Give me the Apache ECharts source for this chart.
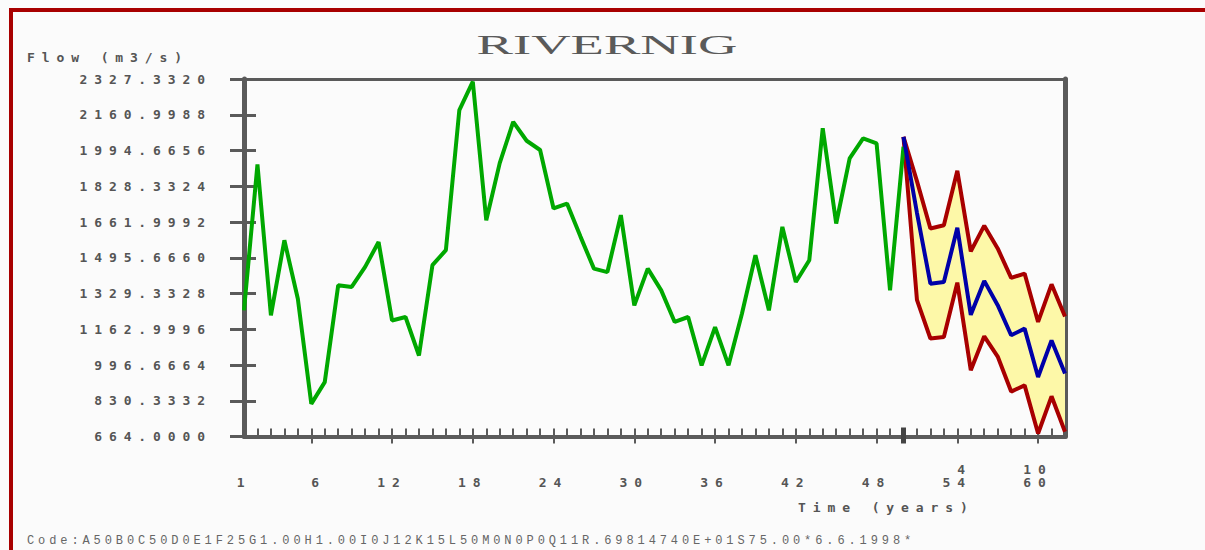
<!DOCTYPE html>
<html lang="en">
<head>
<meta charset="UTF-8">
<title>RIVERNIG</title>
<style>
    html, body { margin: 0; padding: 0; background: #ffffff; }
    #chart { width: 1205px; height: 550px; }
    /* old DOS plot font is very wide: spread the mono texts out */
    #chart text[style*="DejaVu Sans Mono"] { letter-spacing: 6.9px; white-space: pre; }
    #chart text[style*="Liberation Mono"] { letter-spacing: 3.9px; white-space: pre; }
</style>
</head>
<body>
<div id="chart"></div>
<script src="https://cdn.jsdelivr.net/npm/echarts@6/dist/echarts.min.js"></script>
<script>
// observed flow, years 1..50
var histYears = [1, 2, 3, 4, 5, 6, 7, 8, 9, 10, 11, 12, 13, 14, 15, 16, 17, 18, 19, 20,
    21, 22, 23, 24, 25, 26, 27, 28, 29, 30, 31, 32, 33, 34, 35, 36, 37, 38, 39, 40,
    41, 42, 43, 44, 45, 46, 47, 48, 49, 50];
var histFlow = [1251, 1930, 1228, 1577, 1305, 816, 917, 1368, 1360, 1453,
    1569, 1204, 1220, 1041, 1461, 1531, 2183, 2315, 1670, 1936,
    2128, 2040, 1997, 1725, 1748, 1594, 1445, 1429, 1694, 1274,
    1445, 1344, 1197, 1220, 995, 1173, 995, 1236, 1507, 1251,
    1639, 1383, 1484, 2098, 1655, 1958, 2051, 2028, 1344, 2012];

// forecast from year 50 (mean and band)
var fcYears = [50, 51, 52, 53, 54, 55, 56, 57, 58, 59, 60, 61, 62];
var fcMean  = [2058, 1705, 1375, 1383, 1635, 1230, 1388, 1275, 1135, 1166, 941, 1111, 957];
var fcUpper = [2058, 1852, 1632, 1647, 1900, 1525, 1645, 1539, 1402, 1422, 1197, 1372, 1222];
var fcLower = [2058, 1300, 1120, 1127, 1380, 972, 1130, 1036, 873, 902, 678, 851, 686];

// axis ticks
var yTicks = [664, 830.3332, 996.6664, 1162.9996, 1329.3328, 1495.666,
    1661.9992, 1828.3324, 1994.6656, 2160.9988, 2327.332];
var xMinorTicks = [];
for (var i = 1; i <= 62; i++) xMinorTicks.push(i);
var xMajorTicks = [6, 12, 18, 24, 30, 36, 42, 48, 54, 60];
var xLabelYears = [1, 6, 12, 18, 24, 30, 36, 42, 48, 54, 60];
var xLabelText  = ['1', ' 6', '12', '18', '24', '30', '36', '42', '48', '54', '60'];
var xLeadText   = ['', '', '', '', '', '', '', '', '', ' 4', '10'];

var axisGrey = '#5a5a5a';
var monoText = { fontFamily: 'DejaVu Sans Mono', fontWeight: 'bold', fontSize: 13, color: '#555555' };

function pairs(xs, ys) {
    return xs.map(function (x, i) { return [x, ys[i]]; });
}

var chart = echarts.init(document.getElementById('chart'), null, { renderer: 'svg' });

var option = {
    animation: false,
    backgroundColor: '#fbfbfb',
    title: [
        { text: 'Flow (m3/s)', left: 27, top: 51, padding: 0, textStyle: monoText },
        { text: 'Time (years)', left: 798, top: 501, padding: 0, textStyle: monoText },
        {
            text: 'Code:A50B0C50D0E1F25G1.00H1.00I0J12K15L50M0N0P0Q11R.69814740E+01S75.00*6.6.1998*',
            left: 27, top: 535, padding: 0,
            textStyle: { fontFamily: 'Liberation Mono', fontWeight: 'normal', fontSize: 12, color: '#666666' }
        }
    ],
    graphic: [
        {
            type: 'rect', silent: true,
            shape: { x: 11, y: 10, width: 1400, height: 800 },
            style: { fill: 'none', stroke: '#a80000', lineWidth: 4 }
        },
        {
            type: 'text', silent: true, x: 607, y: 44, scaleX: 1.95,
            style: {
                text: 'RIVERNIG', font: '28px "Liberation Serif"', fill: '#5a5a5a',
                textAlign: 'center', textVerticalAlign: 'middle'
            }
        }
    ],
    grid: { left: 244, right: 140, top: 79, bottom: 113.5 },
    xAxis: [
        {   // main axis: line, minor ticks up, labels
            type: 'value', min: 1, max: 62, position: 'bottom',
            axisLine: { show: true, lineStyle: { color: axisGrey, width: 4 } },
            axisTick: { show: true, inside: true, length: 8, lineStyle: { color: axisGrey, width: 2 },
                customValues: xMinorTicks },
            axisLabel: {
                customValues: xLabelYears, margin: 26, lineHeight: 13,
                fontFamily: monoText.fontFamily, fontWeight: 'bold', fontSize: 13, color: '#555555',
                formatter: function (v) {
                    var k = xLabelYears.indexOf(Math.round(v));
                    return xLeadText[k] + '\n' + xLabelText[k];
                }
            },
            splitLine: { show: false }
        },
        {   // major ticks down
            type: 'value', min: 1, max: 62, position: 'bottom',
            axisLine: { show: false },
            axisTick: { show: true, inside: false, length: 7, lineStyle: { color: axisGrey, width: 2 },
                customValues: xMajorTicks },
            axisLabel: { show: false },
            splitLine: { show: false }
        },
        {   // thick marker at start of forecast
            type: 'value', min: 1, max: 62, position: 'bottom', offset: -9,
            axisLine: { show: false },
            axisTick: { show: true, inside: false, length: 16, lineStyle: { color: '#444444', width: 5 },
                customValues: [50] },
            axisLabel: { show: false },
            splitLine: { show: false }
        },
        {   // top frame
            type: 'value', min: 1, max: 62, position: 'top',
            axisLine: { show: true, lineStyle: { color: axisGrey, width: 3 } },
            axisTick: { show: false }, axisLabel: { show: false }, splitLine: { show: false }
        }
    ],
    yAxis: [
        {
            type: 'value', min: 664, max: 2327.332, position: 'left',
            axisLine: { show: true, lineStyle: { color: axisGrey, width: 5 } },
            axisTick: { show: false },
            axisLabel: {
                customValues: yTicks, margin: 32,
                fontFamily: monoText.fontFamily, fontWeight: 'bold', fontSize: 13, color: '#555555',
                formatter: function (v) { return v.toFixed(4); }
            },
            splitLine: { show: false }
        },
        {   // ticks crossing the axis
            type: 'value', min: 664, max: 2327.332, position: 'left', offset: -12,
            axisLine: { show: false },
            axisTick: { show: true, inside: false, length: 26, lineStyle: { color: axisGrey, width: 3 },
                customValues: yTicks },
            axisLabel: { show: false },
            splitLine: { show: false }
        },
        {   // right frame
            type: 'value', min: 664, max: 2327.332, position: 'right',
            axisLine: { show: true, lineStyle: { color: axisGrey, width: 5 } },
            axisTick: { show: false }, axisLabel: { show: false }, splitLine: { show: false }
        }
    ],
    series: [
        {
            name: 'Observed', type: 'line', data: pairs(histYears, histFlow),
            symbol: 'none', z: 4,
            lineStyle: { color: '#00a800', width: 4 }
        },
        {
            // yellow confidence band between the lower and upper forecast
            name: 'Band', type: 'custom', coordinateSystem: 'cartesian2d', silent: true, z: 1,
            data: fcYears.map(function (x, i) { return [x, fcLower[i], fcUpper[i]]; }),
            encode: { x: 0, y: [1, 2] },
            renderItem: function (params, api) {
                if (params.dataIndex !== 0) return null;
                var pts = [];
                for (var k = 0; k < fcYears.length; k++) pts.push(api.coord([fcYears[k], fcUpper[k]]));
                for (var k = fcYears.length - 1; k >= 0; k--) pts.push(api.coord([fcYears[k], fcLower[k]]));
                return {
                    type: 'polygon', shape: { points: pts },
                    style: { fill: '#fdf8a8', stroke: null }
                };
            }
        },
        {
            name: 'Lower', type: 'line', data: pairs(fcYears, fcLower),
            symbol: 'none', z: 3,
            lineStyle: { color: '#a80000', width: 4 }
        },
        {
            name: 'Upper', type: 'line', data: pairs(fcYears, fcUpper),
            symbol: 'none', z: 3,
            lineStyle: { color: '#a80000', width: 4 }
        },
        {
            name: 'Mean', type: 'line', data: pairs(fcYears, fcMean),
            symbol: 'none', z: 5,
            lineStyle: { color: '#0000a8', width: 4 }
        }
    ]
};

chart.setOption(option);
</script>
</body>
</html>
